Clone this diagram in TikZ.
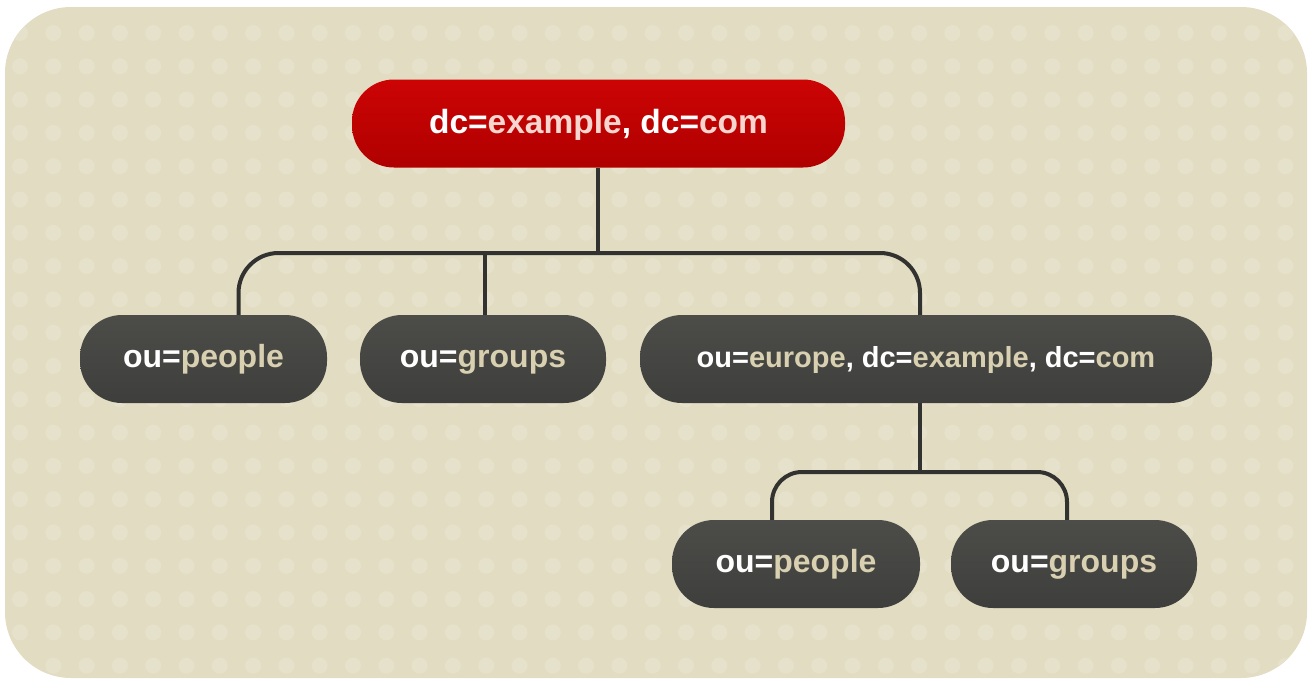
\documentclass[tikz,border=0pt]{standalone}
\usepackage{fontspec}
\setmainfont{Liberation Sans}
\usetikzlibrary{positioning,calc}
\definecolor{bgbeige}{RGB}{226,220,194}
\definecolor{dotbeige}{RGB}{230,225,203}
\definecolor{valbeige}{RGB}{216,208,176}
\definecolor{valpink}{RGB}{248,214,208}
\definecolor{linkgrey}{RGB}{50,51,48}
\newcommand{\kv}[2]{{\color{white}#1=}#2}
\newcommand{\csep}{{\color{white},} }

\begin{document}
\begin{tikzpicture}
[x=1pt,y=-1pt,
entry/.style = {rectangle, rounded corners=42pt, minimum height=88pt, inner sep=0pt,
  text height=23pt, text depth=7pt, font=\bfseries\fontsize{32}{38}\selectfont},
rootentry/.style = {entry, top color={rgb,255:red,204;green,4;blue,4}, bottom color={rgb,255:red,176;green,0;blue,0}, text=valpink},
ouentry/.style = {entry, top color={rgb,255:red,76;green,77;blue,73}, bottom color={rgb,255:red,62;green,63;blue,60}, text=valbeige},
link/.style = {draw=linkgrey, line width=4pt},]
\useasboundingbox (0,0) rectangle (1309,680);
\fill[bgbeige, rounded corners=66pt] (5,7) rectangle (1307,678);
\begin{scope}
\clip[rounded corners=66pt] (5,7) rectangle (1307,678);
\foreach \i in {0,...,39}
  \foreach \j in {0,...,20}
    \fill[dotbeige] (20+33.3*\i, 33+33.3*\j) circle (8pt);
\end{scope}

\node (root) at (598.5,123.5)[rootentry, minimum width=493pt, text height=24pt, text depth=5pt, font=\bfseries\fontsize{33.5}{40}\selectfont] {\kv{dc}{example}\csep\kv{dc}{com}};
\node (pe1) at (203.5,359)[ouentry, minimum width=247pt] {\kv{ou}{people}};
\node (gr1) at (483,359)[ouentry, minimum width=246pt] {\kv{ou}{groups}};
\node (eu) at (926,359)[ouentry, minimum width=572pt, font=\bfseries\fontsize{29}{35}\selectfont] {\kv{ou}{europe}\csep\kv{dc}{example}\csep\kv{dc}{com}};
\node (pe2) at (796,564)[ouentry, minimum width=248pt] {\kv{ou}{people}};
\node (gr2) at (1074,564)[ouentry, minimum width=246pt] {\kv{ou}{groups}};

\coordinate (bus1) at (598,253);
\coordinate (bus2) at (920,472);
\draw[link] (root.south -| bus1) -- (bus1);
\draw[link, rounded corners=40pt] ([xshift=35pt]pe1.north) |- (bus1) -| ([xshift=-6pt]eu.north);
\draw[link] ([xshift=2pt]gr1.north) -- ([xshift=2pt]gr1.north |- bus1);
\draw[link] ([xshift=-6pt]eu.south) -- (bus2);
\draw[link, rounded corners=30pt] ([xshift=-24pt]pe2.north) |- (bus2) -| ([xshift=-7pt]gr2.north);
\end{tikzpicture}
\end{document}
